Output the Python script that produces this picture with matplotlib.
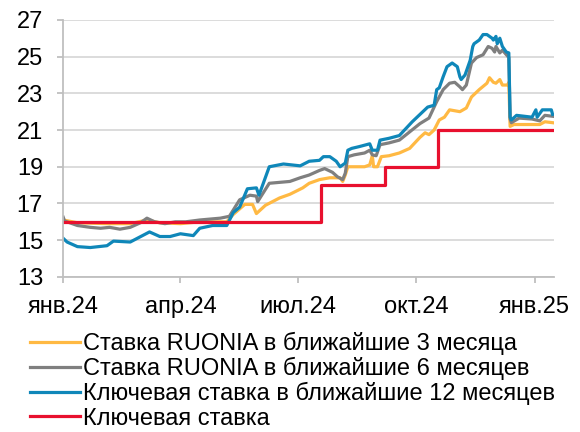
import matplotlib
matplotlib.use("Agg")
import matplotlib.pyplot as plt
import matplotlib.dates as mdates
import pandas as pd

plt.rcParams['font.family'] = ['Liberation Sans', 'DejaVu Sans']

# --- data ---
dates_3m = ["2024-01-01", "2024-01-12", "2024-02-04", "2024-02-22", "2024-03-06", "2024-03-16",
            "2024-04-01", "2024-04-16", "2024-05-07", "2024-05-12", "2024-05-21", "2024-05-27",
            "2024-05-30", "2024-06-06", "2024-06-17", "2024-06-25", "2024-07-05", "2024-07-10",
            "2024-07-18", "2024-07-26", "2024-08-03", "2024-08-05", "2024-08-07", "2024-08-09",
            "2024-08-22", "2024-08-26", "2024-08-28", "2024-08-29", "2024-09-01", "2024-09-04",
            "2024-09-10", "2024-09-18", "2024-09-26", "2024-09-30", "2024-10-04", "2024-10-08",
            "2024-10-11", "2024-10-15", "2024-10-19", "2024-10-23", "2024-10-27", "2024-11-04",
            "2024-11-09", "2024-11-13", "2024-11-19", "2024-11-25", "2024-11-27", "2024-11-30",
            "2024-12-02", "2024-12-05", "2024-12-07", "2024-12-11", "2024-12-12", "2024-12-13",
            "2024-12-16", "2025-01-05", "2025-01-09", "2025-01-15"]
ruonia_3m = [16.1, 15.95, 15.9, 15.9, 16.1, 15.95,
             15.9, 16.0, 16.0, 16.4, 16.95, 16.95,
             16.45, 16.9, 17.3, 17.5, 17.85, 18.1,
             18.3, 18.4, 18.4, 18.2, 18.55, 19.0,
             19.0, 19.1, 19.6, 19.0, 19.0, 19.55,
             19.6, 19.75, 20.0, 20.3, 20.6, 20.85,
             20.75, 21.0, 21.55, 21.7, 22.1, 22.0,
             22.2, 22.8, 23.2, 23.55, 23.85, 23.6,
             23.55, 23.75, 23.45, 23.45, 23.6, 21.2,
             21.3, 21.3, 21.45, 21.4]

dates_6m = ["2024-01-01", "2024-01-02", "2024-01-12", "2024-01-22", "2024-01-30", "2024-02-06",
            "2024-02-14", "2024-02-22", "2024-03-01", "2024-03-06", "2024-03-12", "2024-03-20",
            "2024-03-28", "2024-04-05", "2024-04-16", "2024-05-02", "2024-05-09", "2024-05-17",
            "2024-05-25", "2024-05-30", "2024-05-31", "2024-06-09", "2024-06-25", "2024-07-03",
            "2024-07-10", "2024-07-18", "2024-07-22", "2024-07-28", "2024-08-01", "2024-08-05",
            "2024-08-07", "2024-08-09", "2024-08-14", "2024-08-22", "2024-08-26", "2024-08-28",
            "2024-08-31", "2024-09-03", "2024-09-10", "2024-09-18", "2024-09-26", "2024-10-04",
            "2024-10-11", "2024-10-17", "2024-10-22", "2024-10-27", "2024-10-31", "2024-11-04",
            "2024-11-06", "2024-11-09", "2024-11-13", "2024-11-17", "2024-11-22", "2024-11-26",
            "2024-11-29", "2024-12-01", "2024-12-02", "2024-12-05", "2024-12-07", "2024-12-12",
            "2024-12-13", "2024-12-14", "2024-12-20", "2024-12-30", "2025-01-05", "2025-01-09",
            "2025-01-15"]
ruonia_6m = [16.25, 16.05, 15.8, 15.7, 15.65, 15.7,
             15.6, 15.7, 15.95, 16.2, 16.0, 15.9,
             16.0, 16.0, 16.1, 16.2, 16.3, 17.2,
             17.45, 17.4, 17.1, 18.1, 18.2, 18.4,
             18.55, 18.8, 18.9, 18.7, 18.45, 18.3,
             18.65, 19.55, 19.65, 19.75, 19.9, 19.65,
             19.6, 20.2, 20.3, 20.45, 20.9, 21.35,
             21.65, 22.55, 23.2, 23.55, 23.6, 23.35,
             23.2, 23.45, 24.65, 24.95, 25.1, 25.55,
             25.45, 25.25, 25.55, 25.2, 25.35, 24.95,
             21.6, 21.4, 21.65, 21.6, 21.5, 21.8,
             21.75]

dates_12m = ["2024-01-01", "2024-01-04", "2024-01-12", "2024-01-22", "2024-02-04", "2024-02-09",
             "2024-02-22", "2024-03-08", "2024-03-16", "2024-03-24", "2024-04-01", "2024-04-11",
             "2024-04-16", "2024-04-26", "2024-05-07", "2024-05-12", "2024-05-17", "2024-05-23",
             "2024-05-30", "2024-06-01", "2024-06-09", "2024-06-20", "2024-07-03", "2024-07-10",
             "2024-07-18", "2024-07-21", "2024-07-26", "2024-07-31", "2024-08-03", "2024-08-07",
             "2024-08-09", "2024-08-12", "2024-08-18", "2024-08-26", "2024-08-28", "2024-09-01",
             "2024-09-03", "2024-09-10", "2024-09-18", "2024-09-22", "2024-09-26", "2024-09-28",
             "2024-10-04", "2024-10-10", "2024-10-15", "2024-10-17", "2024-10-19", "2024-10-22",
             "2024-10-25", "2024-10-29", "2024-10-31", "2024-11-02", "2024-11-04", "2024-11-05",
             "2024-11-08", "2024-11-12", "2024-11-14", "2024-11-15", "2024-11-19", "2024-11-22",
             "2024-11-25", "2024-11-29", "2024-11-30", "2024-12-02", "2024-12-03", "2024-12-05",
             "2024-12-07", "2024-12-10", "2024-12-12", "2024-12-13", "2024-12-14", "2024-12-18",
             "2024-12-30", "2025-01-02", "2025-01-03", "2025-01-07", "2025-01-14", "2025-01-15"]
key_12m = [15.1, 14.9, 14.65, 14.6, 14.7, 14.95,
           14.9, 15.45, 15.2, 15.2, 15.35, 15.25,
           15.65, 15.8, 15.8, 16.5, 16.8, 17.8,
           17.85, 17.45, 19.0, 19.15, 19.05, 19.3,
           19.35, 19.55, 19.55, 19.3, 19.0, 19.2,
           19.9, 20.0, 20.1, 20.25, 19.9, 19.9,
           20.45, 20.55, 20.7, 21.0, 21.3, 21.45,
           21.85, 22.25, 22.35, 23.2, 23.3, 23.9,
           24.45, 24.65, 24.55, 24.45, 23.9, 23.75,
           24.0, 24.8, 25.55, 25.7, 25.9, 26.2,
           26.2, 26.0, 25.9, 26.1, 25.7, 26.0,
           25.55, 25.25, 25.2, 21.7, 21.55, 21.8,
           21.7, 22.1, 21.7, 22.1, 22.1, 21.85]

dates_key = ["2024-01-01", "2024-07-19", "2024-09-07", "2024-10-18", "2025-01-15"]
key_rate = [16, 18, 19, 21, 21]

labels = ["Ставка RUONIA в ближайшие 3 месяца",
          "Ставка RUONIA в ближайшие 6 месяцев",
          "Ключевая ставка в ближайшие 12 месяцев",
          "Ключевая ставка"]
colors = ["#FFB943", "#7F7F7F", "#0F87B9", "#E8102E"]

tick_dates = ["2024-01-01", "2024-04-01", "2024-07-01", "2024-10-01", "2025-01-01"]
tick_labels = ["янв.24", "апр.24", "июл.24", "окт.24", "янв.25"]

fig = plt.figure(figsize=(5.8, 4.32), dpi=100)
ax = fig.add_axes([0.109, 0.359, 0.846, 0.595])

ax.plot(pd.to_datetime(dates_3m), ruonia_3m, color=colors[0], lw=2.3, label=labels[0])
ax.plot(pd.to_datetime(dates_6m), ruonia_6m, color=colors[1], lw=2.3, label=labels[1])
ax.plot(pd.to_datetime(dates_12m), key_12m, color=colors[2], lw=2.3, label=labels[2])
ax.plot(pd.to_datetime(dates_key), key_rate, color=colors[3], lw=2.3, drawstyle="steps-post", label=labels[3])

ax.set_ylim(13, 27)
ax.set_yticks(range(13, 28, 2))
ax.set_xlim(pd.Timestamp("2024-01-01"), pd.Timestamp("2025-01-16"))
ax.set_xticks(pd.to_datetime(tick_dates))
ax.set_xticklabels(tick_labels)

ax.grid(axis="y", color="#D9D9D9", lw=1.3)
ax.set_axisbelow(True)
for s in ["top", "right"]:
    ax.spines[s].set_visible(False)
for s in ["left", "bottom"]:
    ax.spines[s].set_color("#BFBFBF")
    ax.spines[s].set_linewidth(1.3)
ax.tick_params(axis="both", colors="#BFBFBF", labelcolor="black", labelsize=17, length=4.5, width=1.3)
ax.tick_params(axis="y", pad=10)
ax.tick_params(axis="x", pad=9)

ax.legend(loc="upper left", bbox_to_anchor=(0.052, 0.232), bbox_transform=fig.transFigure,
          frameon=False, fontsize=17, borderpad=0, borderaxespad=0, labelspacing=0.09,
          handlelength=2.1, handletextpad=0.12)

fig.savefig("out.png", dpi=100)
